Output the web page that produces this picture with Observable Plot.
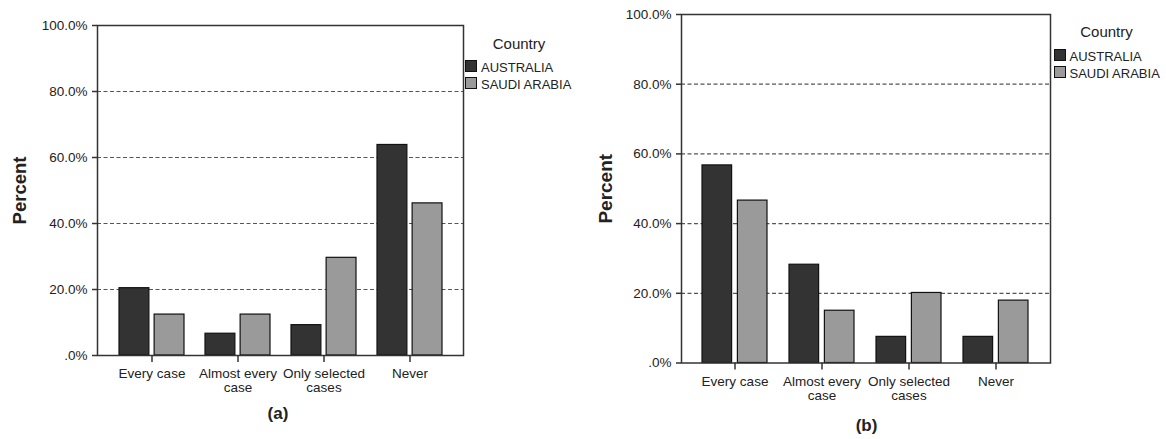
<!DOCTYPE html>
<html>
<head>
<meta charset="utf-8">
<script src="https://cdn.jsdelivr.net/npm/d3@7"></script>
<script src="https://cdn.jsdelivr.net/npm/@observablehq/plot@0.6"></script>
<style>
  body { margin: 0; background: #fff; }
  #fig { position: relative; width: 1166px; height: 439px; overflow: hidden;
         font-family: "Liberation Sans", Arial, sans-serif; color: #222; }
  .panel { position: absolute; top: 0; overflow: visible; }
  .txt { position: absolute; white-space: nowrap; transform: translateY(-50%); }
  .ctr { transform: translate(-50%, -50%); }
  .sw { position: absolute; box-sizing: border-box; border: 1px solid #111; }
</style>
</head>
<body>
<div id="fig"></div>
<script>
// Response categories and their two-line tick labels
const categories = ["Every case", "Almost every case", "Only selected cases", "Never"];
const tickLabels = ["Every case", "Almost every\ncase", "Only selected\ncases", "Never"];
const countries = ["AUSTRALIA", "SAUDI ARABIA"];
const countryColors = ["#333333", "#9a9a9a"];

// Percent of respondents, panel (a)
const panelA_australia = [20.4, 6.6, 9.2, 63.8];
const panelA_saudi = [12.4, 12.4, 29.6, 46.1];

// Percent of respondents, panel (b)
const panelB_australia = [56.7, 28.2, 7.5, 7.5];
const panelB_saudi = [46.6, 15.0, 20.1, 17.9];

// Axis ticks
const yTicks = [0, 20, 40, 60, 80, 100];
const gridTicks = [20, 40, 60, 80];
const yTickFormat = d => d === 0 ? ".0%" : d.toFixed(1) + "%";

const fig = document.getElementById("fig");
const padInner = 0.25, padOuter = 0.245, barGap = 5.5;

function makePanel({left, width, marginLeft, marginRight, marginTop, marginBottom, labelOffset, labelSize, aus, sau}) {
  const rows = categories.flatMap((c, i) => [
    {category: c, country: countries[0], value: aus[i]},
    {category: c, country: countries[1], value: sau[i]}
  ]);
  const plotW = width - marginLeft - marginRight;
  const bandW = plotW / (categories.length - padInner + 2 * padOuter) * (1 - padInner);
  const half = bandW / 2 + barGap / 2;

  const chart = Plot.plot({
    width, height: 439, marginLeft, marginRight, marginTop, marginBottom,
    style: {fontFamily: "'Liberation Sans', Arial, sans-serif", color: "#222", background: "transparent", overflow: "visible"},
    x: {domain: categories, paddingInner: padInner, paddingOuter: padOuter},
    y: {domain: [0, 100]},
    color: {domain: countries, range: countryColors},
    marks: [
      Plot.ruleY(gridTicks, {stroke: "#555", strokeWidth: 1.2, strokeDasharray: "4,2.5"}),
      Plot.barY(rows.filter(d => d.country === countries[0]),
        {x: "category", y: "value", fill: "country", stroke: "#111", strokeWidth: 1.2, insetRight: half}),
      Plot.barY(rows.filter(d => d.country === countries[1]),
        {x: "category", y: "value", fill: "country", stroke: "#111", strokeWidth: 1.2, insetLeft: half}),
      Plot.frame({stroke: "#333", strokeWidth: 1.5}),
      Plot.axisY({ticks: yTicks, tickFormat: yTickFormat, tickSize: 5, tickPadding: 5,
        fontSize: 13.5, stroke: "#333", strokeWidth: 1.5, fill: "#222", label: null}),
      Plot.axisY({ticks: [], label: "Percent", labelAnchor: "center", labelOffset,
        labelArrow: "none", fontSize: labelSize, fontWeight: "bold", fill: "#222"}),
      Plot.axisX({tickSize: 7, tickPadding: 6, fontSize: 13.5, lineHeight: 1.03, stroke: "#333",
        strokeWidth: 1.5, fill: "#222", tickFormat: d => tickLabels[categories.indexOf(d)], label: null})
    ]
  });
  chart.classList.add("panel");
  chart.style.left = left + "px";
  fig.appendChild(chart);
}

function addText(str, x, y, size, opts = {}) {
  const el = document.createElement("div");
  el.className = "txt" + (opts.center ? " ctr" : "");
  el.textContent = str;
  el.style.left = x + "px";
  el.style.top = y + "px";
  el.style.fontSize = size + "px";
  el.style.lineHeight = size + "px";
  if (opts.bold) el.style.fontWeight = "bold";
  fig.appendChild(el);
}

function addLegend(x, titleX, titleY, firstTop, step) {
  addText("Country", titleX, titleY, 15, {center: true});
  countries.forEach((c, i) => {
    const sw = document.createElement("div");
    sw.className = "sw";
    sw.style.left = x + "px";
    sw.style.top = (firstTop + i * step) + "px";
    sw.style.width = "12px";
    sw.style.height = "12px";
    sw.style.background = countryColors[i];
    fig.appendChild(sw);
    addText(c, x + 16, firstTop + i * step + 6.5, 13);
  });
}

makePanel({left: 0, width: 580, marginLeft: 97, marginRight: 117, marginTop: 25, marginBottom: 84,
  labelOffset: 85, labelSize: 18.5, aus: panelA_australia, sau: panelA_saudi});
makePanel({left: 580, width: 586, marginLeft: 101, marginRight: 116, marginTop: 14, marginBottom: 76.5,
  labelOffset: 83, labelSize: 19, aus: panelB_australia, sau: panelB_saudi});

addLegend(465, 519, 42.5, 60, 17.2);
addLegend(1053.5, 1106.5, 30.7, 49.3, 17);

addText("(a)", 278, 413, 17, {center: true, bold: true});
addText("(b)", 866.5, 425, 17, {center: true, bold: true});
</script>
</body>
</html>
